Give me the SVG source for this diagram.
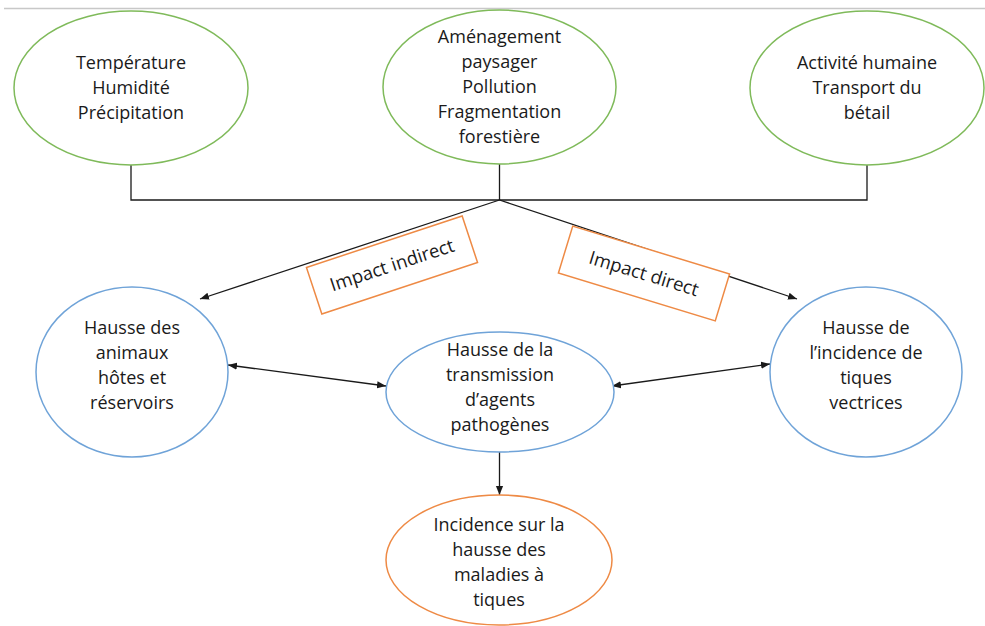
<svg xmlns="http://www.w3.org/2000/svg" width="985" height="626" viewBox="0 0 985 626">
<style>
  .t{font-family:"Open Sans","Liberation Sans",sans-serif;font-size:18px;fill:#1a1a1a;text-anchor:middle}
  .lb{font-size:18.5px}
  .g{fill:#fff;stroke:#7fba5a;stroke-width:1.5}
  .b{fill:#fff;stroke:#6fa3d8;stroke-width:1.5}
  .o{fill:#fff;stroke:#ee8a45;stroke-width:1.5}
  .c{fill:none;stroke:#1a1a1a;stroke-width:1.3}
</style>
<defs>
  <marker id="ah" viewBox="0 0 10 10" refX="10" refY="5" markerWidth="9" markerHeight="9" markerUnits="userSpaceOnUse" orient="auto-start-reverse">
    <path d="M0,1 L10,5 L0,9 z" fill="#1a1a1a"/>
  </marker>
</defs>
<rect width="985" height="626" fill="#fff"/>
<line x1="4" y1="8.5" x2="985" y2="8.5" stroke="#c8c8c8" stroke-width="1.5"/>

<g id="connectors">
  <polyline class="c" points="131,165 131,200 867,200 867,165"/>
  <line class="c" x1="499.5" y1="164" x2="499.5" y2="200"/>
  <line class="c" x1="499.5" y1="200" x2="200" y2="299" marker-end="url(#ah)"/>
  <line class="c" x1="499.5" y1="200" x2="797" y2="299" marker-end="url(#ah)"/>
  <line class="c" x1="228" y1="365" x2="386" y2="386" marker-start="url(#ah)" marker-end="url(#ah)"/>
  <line class="c" x1="612" y1="386" x2="770" y2="364" marker-start="url(#ah)" marker-end="url(#ah)"/>
  <line class="c" x1="499.5" y1="452" x2="499.5" y2="495" marker-end="url(#ah)"/>
</g>

<g id="n-climat">
  <ellipse class="g" cx="131" cy="88" rx="117" ry="77"/>
  <text class="t" x="131" y="69">Température</text>
  <text class="t" x="131" y="94">Humidité</text>
  <text class="t" x="131" y="119">Précipitation</text>
</g>
<g id="n-amenagement">
  <ellipse class="g" cx="499.5" cy="87" rx="116.5" ry="77"/>
  <text class="t" x="499.5" y="43">Aménagement</text>
  <text class="t" x="499.5" y="68">paysager</text>
  <text class="t" x="499.5" y="93">Pollution</text>
  <text class="t" x="499.5" y="118">Fragmentation</text>
  <text class="t" x="499.5" y="143">forestière</text>
</g>
<g id="n-activite">
  <ellipse class="g" cx="867" cy="88" rx="117" ry="77"/>
  <text class="t" x="867" y="69">Activité humaine</text>
  <text class="t" x="867" y="94">Transport du</text>
  <text class="t" x="867" y="119">bétail</text>
</g>

<g id="l-indirect">
  <g transform="translate(392,265) rotate(-18.3)">
    <rect class="o" x="-82" y="-24.5" width="164" height="49"/>
    <text class="t lb" x="0" y="6.5">Impact indirect</text>
  </g>
</g>
<g id="l-direct">
  <g transform="translate(644,273.5) rotate(17)">
    <rect class="o" x="-82" y="-24.5" width="164" height="49"/>
    <text class="t lb" x="0" y="6.5">Impact direct</text>
  </g>
</g>

<g id="n-hotes">
  <ellipse class="b" cx="132" cy="372" rx="96" ry="85"/>
  <text class="t" x="132" y="334">Hausse des</text>
  <text class="t" x="132" y="359">animaux</text>
  <text class="t" x="132" y="384">hôtes et</text>
  <text class="t" x="132" y="409">réservoirs</text>
</g>
<g id="n-transmission">
  <ellipse class="b" cx="500" cy="392" rx="114" ry="60"/>
  <text class="t" x="500" y="356">Hausse de la</text>
  <text class="t" x="500" y="381">transmission</text>
  <text class="t" x="500" y="406">d’agents</text>
  <text class="t" x="500" y="431">pathogènes</text>
</g>
<g id="n-tiques">
  <ellipse class="b" cx="866" cy="372" rx="96" ry="85"/>
  <text class="t" x="866" y="334">Hausse de</text>
  <text class="t" x="866" y="359">l’incidence de</text>
  <text class="t" x="866" y="384">tiques</text>
  <text class="t" x="866" y="409">vectrices</text>
</g>
<g id="n-maladies">
  <ellipse class="o" cx="499" cy="560" rx="113" ry="65"/>
  <text class="t" x="499" y="531">Incidence sur la</text>
  <text class="t" x="499" y="556">hausse des</text>
  <text class="t" x="499" y="581">maladies à</text>
  <text class="t" x="499" y="606">tiques</text>
</g>
</svg>
